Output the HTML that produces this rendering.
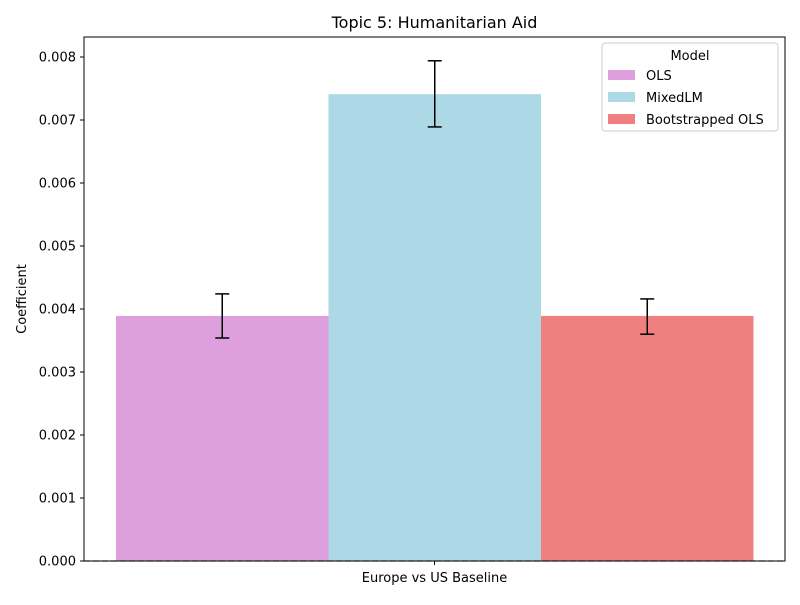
<!DOCTYPE html>
<html><head><meta charset="utf-8"><style>
body{margin:0;background:#fff;font-family:"Liberation Sans","DejaVu Sans",sans-serif;}
</style></head><body>
<svg id="chart" width="800" height="600" xmlns="http://www.w3.org/2000/svg" font-family="DejaVu Sans, Liberation Sans, sans-serif">
<rect width="800" height="600" fill="#fff"/>
<text x="434.5" y="28" text-anchor="middle" font-size="16">Topic 5: Humanitarian Aid</text>
<text transform="translate(26,299) rotate(-90)" text-anchor="middle" font-size="13">Coefficient</text>
<text x="434.5" y="582" text-anchor="middle" font-size="13">Europe vs US Baseline</text>
<g id="marks"></g>
<g id="yticks"></g>
<rect x="84" y="37" width="701" height="524" fill="none" stroke="#000" stroke-width="1"/>
<line x1="434.5" y1="561" x2="434.5" y2="565" stroke="#000"/>
<g>
<rect x="602" y="43" width="176" height="88" fill="#fff" fill-opacity="0.8" stroke="#ccc" rx="3"/>
<text x="690" y="60" text-anchor="middle" font-size="13">Model</text>
<g id="legend-items"></g>
</g>
</svg>
<script>
const categories=["OLS","MixedLM","Bootstrapped OLS"];
const values=[0.00389,0.00741,0.00389];
const errLow=[0.00354,0.00689,0.00360];
const errHigh=[0.00424,0.00794,0.00416];
const colors=["#dda0dd","#add8e6","#f08080"];
const yTicks=[0,0.001,0.002,0.003,0.004,0.005,0.006,0.007,0.008];
const yTickLabels=["0.000","0.001","0.002","0.003","0.004","0.005","0.006","0.007","0.008"];

const NS="http://www.w3.org/2000/svg";
const y0=561, pxPerUnit=63000;
function yScale(v){return y0-v*pxPerUnit;}
const barW=212.5, groupLeft=116;
function xScale(i){return groupLeft+i*barW;}
function mk(tag,attrs,parent){const e=document.createElementNS(NS,tag);for(const k in attrs)e.setAttribute(k,attrs[k]);parent.appendChild(e);return e;}
const marks=document.getElementById('marks');
values.forEach((v,i)=>{
  const r=mk('rect',{x:xScale(i),y:yScale(v),width:barW,height:y0-yScale(v),fill:colors[i]},marks);
  
  
});
mk('line',{x1:84,x2:785,y1:y0,y2:y0,stroke:'#666','stroke-dasharray':'6,3','stroke-width':1.2},marks);
values.forEach((v,i)=>{
  const cx=xScale(i)+barW/2;
  const g=mk('g',{stroke:'#000','stroke-width':1.5},marks);
  
  
  mk('line',{x1:cx,x2:cx,y1:yScale(errLow[i]),y2:yScale(errHigh[i])},g);
  mk('line',{x1:cx-7,x2:cx+7,y1:yScale(errLow[i]),y2:yScale(errLow[i])},g);
  mk('line',{x1:cx-7,x2:cx+7,y1:yScale(errHigh[i]),y2:yScale(errHigh[i])},g);
});
const yt=document.getElementById('yticks');
yTicks.forEach((t,i)=>{
  const y=yScale(t);
  const l=mk('line',{x1:80,x2:84,y1:y,y2:y,stroke:'#000'},yt);
  
  
  const tx=mk('text',{x:76,y:y+4.5,'text-anchor':'end','font-size':13},yt);
  tx.textContent=yTickLabels[i];
  
  
});
const li=document.getElementById('legend-items');
categories.forEach((c,i)=>{
  const y=70+i*22;
  const g=mk('g',{},li);
  
  
  mk('rect',{x:608,y:y,width:27,height:10,fill:colors[i]},g);
  const t=mk('text',{x:646,y:y+10,'font-size':13},g);
  t.textContent=c;
});
</script>
</body></html>
